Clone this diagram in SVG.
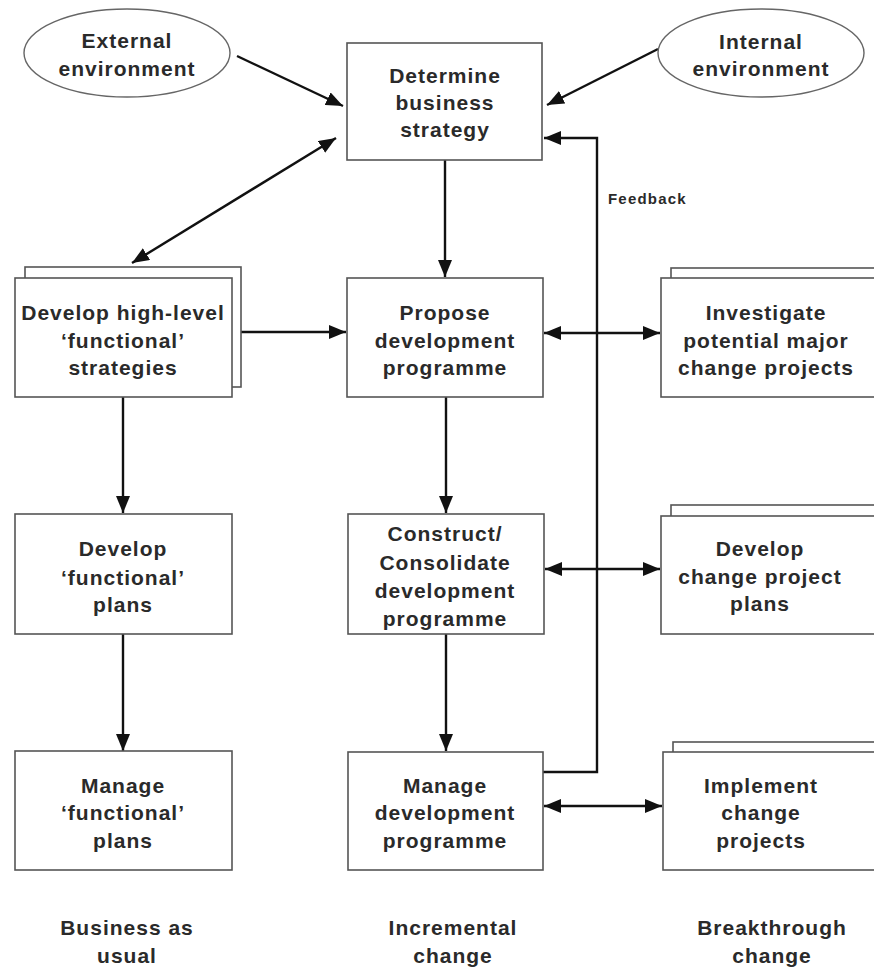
<svg xmlns="http://www.w3.org/2000/svg" width="874" height="968" viewBox="0 0 874 968">
<style>
.box{fill:#fff;stroke:#555;stroke-width:1.6}
.el{fill:#fff;stroke:#666;stroke-width:1.4}
.t{font-family:"Liberation Sans",Arial,sans-serif;font-weight:bold;font-size:21px;letter-spacing:1px;fill:#2a2a2a;text-anchor:middle}
.fb{font-family:"Liberation Sans",Arial,sans-serif;font-weight:bold;font-size:15px;letter-spacing:1.2px;fill:#2a2a2a}
.c{fill:none;stroke:#111;stroke-width:2.4}
</style>
<defs>
<marker id="ah" viewBox="0 0 17 14" refX="17" refY="7" markerWidth="17" markerHeight="14" markerUnits="userSpaceOnUse" orient="auto-start-reverse">
<path d="M0,0 L17,7 L0,14 Z" fill="#111"/>
</marker>
</defs>
<rect width="874" height="968" fill="#fff"/>

<g id="connectors">
<line class="c" x1="237" y1="56" x2="343" y2="106" marker-end="url(#ah)"/>
<line class="c" x1="658" y1="49" x2="547" y2="105" marker-end="url(#ah)"/>
<line class="c" x1="132" y1="263" x2="336" y2="138" marker-start="url(#ah)" marker-end="url(#ah)"/>
<line class="c" x1="445" y1="160" x2="445" y2="277" marker-end="url(#ah)"/>
<line class="c" x1="241" y1="332" x2="346" y2="332" marker-end="url(#ah)"/>
<line class="c" x1="544" y1="333" x2="660" y2="333" marker-start="url(#ah)" marker-end="url(#ah)"/>
<line class="c" x1="123" y1="397" x2="123" y2="513" marker-end="url(#ah)"/>
<line class="c" x1="446" y1="397" x2="446" y2="513" marker-end="url(#ah)"/>
<line class="c" x1="545" y1="569" x2="660" y2="569" marker-start="url(#ah)" marker-end="url(#ah)"/>
<line class="c" x1="123" y1="634" x2="123" y2="751" marker-end="url(#ah)"/>
<line class="c" x1="446" y1="634" x2="446" y2="751" marker-end="url(#ah)"/>
<line class="c" x1="544" y1="806" x2="662" y2="806" marker-start="url(#ah)" marker-end="url(#ah)"/>
<polyline class="c" points="543,772 597,772 597,138 544,138" marker-end="url(#ah)"/>
<text class="fb" x="608" y="204">Feedback</text>
</g>

<g id="external">
<ellipse class="el" cx="127" cy="53" rx="103" ry="44"/>
<text class="t" x="127" y="48">External</text>
<text class="t" x="127" y="76">environment</text>
</g>

<g id="internal">
<ellipse class="el" cx="761" cy="53" rx="103" ry="44"/>
<text class="t" x="761" y="49">Internal</text>
<text class="t" x="761" y="76">environment</text>
</g>

<g id="determine">
<rect class="box" x="347" y="43" width="195" height="117"/>
<text class="t" x="445" y="83">Determine</text>
<text class="t" x="445" y="110">business</text>
<text class="t" x="445" y="137">strategy</text>
</g>

<g id="highlevel">
<rect class="box" x="25" y="267" width="216" height="120"/>
<rect class="box" x="15" y="278" width="217" height="119"/>
<text class="t" x="123" y="320">Develop high-level</text>
<text class="t" x="123" y="348">‘functional’</text>
<text class="t" x="123" y="375">strategies</text>
</g>

<g id="propose">
<rect class="box" x="347" y="278" width="196" height="119"/>
<text class="t" x="445" y="320">Propose</text>
<text class="t" x="445" y="348">development</text>
<text class="t" x="445" y="375">programme</text>
</g>

<g id="investigate">
<rect class="box" x="671" y="268" width="230" height="119"/>
<rect class="box" x="661" y="278" width="230" height="119"/>
<text class="t" x="766" y="320">Investigate</text>
<text class="t" x="766" y="348">potential major</text>
<text class="t" x="766" y="375">change projects</text>
</g>

<g id="funcplans">
<rect class="box" x="15" y="514" width="217" height="120"/>
<text class="t" x="123" y="556">Develop</text>
<text class="t" x="123" y="585">‘functional’</text>
<text class="t" x="123" y="612">plans</text>
</g>

<g id="construct">
<rect class="box" x="348" y="514" width="196" height="120"/>
<text class="t" x="445" y="541">Construct/</text>
<text class="t" x="445" y="570">Consolidate</text>
<text class="t" x="445" y="598">development</text>
<text class="t" x="445" y="626">programme</text>
</g>

<g id="changeplans">
<rect class="box" x="671" y="505" width="230" height="119"/>
<rect class="box" x="661" y="516" width="230" height="118"/>
<text class="t" x="760" y="556">Develop</text>
<text class="t" x="760" y="584">change project</text>
<text class="t" x="760" y="611">plans</text>
</g>

<g id="managefunc">
<rect class="box" x="15" y="751" width="217" height="119"/>
<text class="t" x="123" y="793">Manage</text>
<text class="t" x="123" y="820">‘functional’</text>
<text class="t" x="123" y="848">plans</text>
</g>

<g id="managedev">
<rect class="box" x="348" y="752" width="195" height="118"/>
<text class="t" x="445" y="793">Manage</text>
<text class="t" x="445" y="820">development</text>
<text class="t" x="445" y="848">programme</text>
</g>

<g id="implement">
<rect class="box" x="673" y="742" width="230" height="118"/>
<rect class="box" x="663" y="752" width="230" height="118"/>
<text class="t" x="761" y="793">Implement</text>
<text class="t" x="761" y="820">change</text>
<text class="t" x="761" y="848">projects</text>
</g>

<g id="labels">
<text class="t" x="127" y="935">Business as</text>
<text class="t" x="127" y="963">usual</text>
<text class="t" x="453" y="935">Incremental</text>
<text class="t" x="453" y="963">change</text>
<text class="t" x="772" y="935">Breakthrough</text>
<text class="t" x="772" y="963">change</text>
</g>
</svg>
